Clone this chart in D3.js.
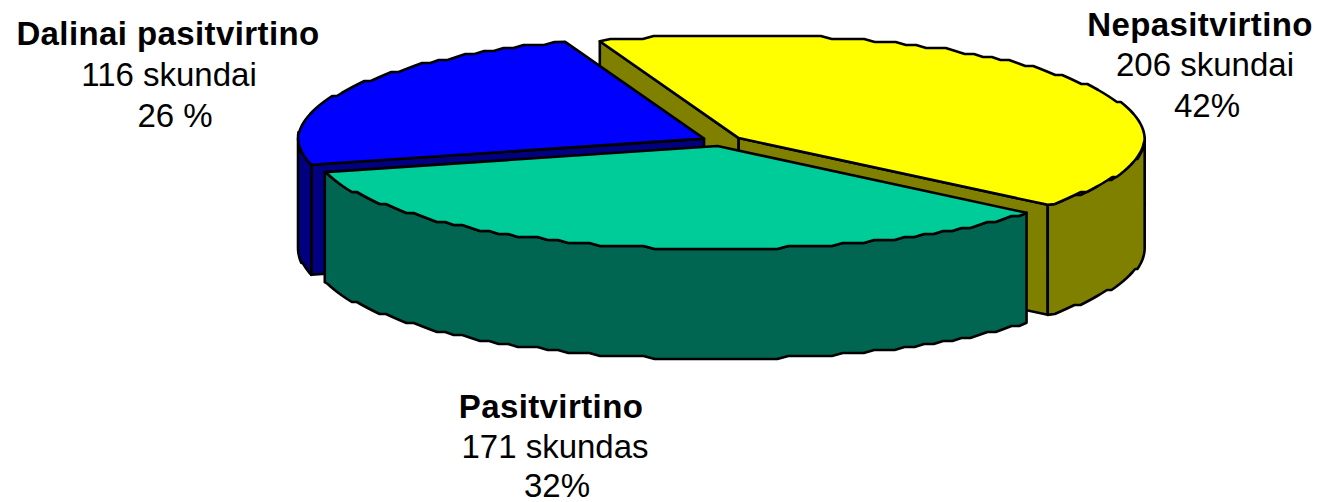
<!DOCTYPE html>
<html><head><meta charset="utf-8">
<style>html,body{margin:0;padding:0;background:#fff}svg{display:block}text{font-family:"Liberation Sans",Arial,sans-serif;fill:#000}</style>
<script src="https://cdn.jsdelivr.net/npm/d3@7/dist/d3.min.js"></script>
</head><body><svg id="c" width="1322" height="502"></svg>
<script>
const categories = ["Nepasitvirtino", "Pasitvirtino", "Dalinai pasitvirtino"];
const counts = [206, 171, 116];
const countLabels = ["206 skundai", "171 skundas", "116 skundai"];
const percentLabels = ["42%", "32%", "26 %"];
const topColors = ["#FFFF00", "#00CC99", "#0000FF"];
const sideColors = ["#808000", "#006652", "#000080"];
const drawOrder = [0, 2, 1];
// label anchor positions per category: [x, baseline] for title, count, percent
const labelPos = [
  [[1200, 36], [1205, 76], [1207, 117]],
  [[551, 418], [555, 458], [557, 497]],
  [[168, 45], [169, 86], [175, 127]]
];

const svg = d3.select("#c");
const rx = 406, ry = 103, depth = 110, explode = 0.05, grid = 3;
const sx = d3.scaleLinear().domain([-1, 1]).range([722 - rx, 722 + rx]);
const sy = d3.scaleLinear().domain([-1, 1]).range([141 - ry, 141 + ry]);
const deg = Math.PI / 180;
const pie = d3.pie().sort(null).startAngle(-20 * deg).endAngle(340 * deg);
const arcs = pie(counts);

const snap = v => Math.round(v / grid) * grid;
const line = d3.line();

function slicePoints(a) {
  const mid = (a.startAngle + a.endAngle) / 2;
  const ox = explode * Math.sin(mid), oy = -explode * Math.cos(mid);
  const P = (t, r) => [sx(ox + r * Math.sin(t)), sy(oy - r * Math.cos(t))];
  const arcPts = (t0, t1) => {
    const n = Math.max(2, Math.ceil((t1 - t0) / (1.6 * deg)));
    return d3.range(n + 1).map(i => {
      const t = t0 + (t1 - t0) * i / n;
      const p = P(t, 1);
      return (i === 0 || i === n) ? p : [p[0], snap(p[1])];
    });
  };
  return { P, arcPts };
}
const down = p => [p[0], p[1] + depth];

drawOrder.forEach(i => {
  const a = arcs[i];
  const { P, arcPts } = slicePoints(a);
  const g = svg.append("g");
  const center = P(0, 0), s = P(a.startAngle, 1), e = P(a.endAngle, 1);
  const style = sel => sel.attr("stroke", "#000").attr("stroke-width", 2.6).attr("stroke-linejoin", "round");
  const face = pts => style(g.append("path").attr("d", line(pts) + "Z").attr("fill", sideColors[i]));
  // cut faces, only the ones turned towards the viewer
  if (Math.sin(a.startAngle) < 0) face([center, s, down(s), down(center)]);
  if (Math.sin(a.endAngle) > 0) face([center, e, down(e), down(center)]);
  // outer wall, front half only
  const t0 = Math.max(a.startAngle, 90 * deg), t1 = Math.min(a.endAngle, 270 * deg);
  if (t1 > t0) {
    const top = arcPts(t0, t1);
    face(top.concat(top.slice().reverse().map(down)));
  }
  // top
  style(g.append("path").attr("d", line([center].concat(arcPts(a.startAngle, a.endAngle))) + "Z").attr("fill", topColors[i]));
});

categories.forEach((c, i) => {
  const g = svg.append("g").attr("text-anchor", "middle").attr("font-size", 33);
  g.append("text").attr("x", labelPos[i][0][0]).attr("y", labelPos[i][0][1])
    .attr("font-weight", "bold").attr("letter-spacing", 0.4).text(c);
  g.append("text").attr("x", labelPos[i][1][0]).attr("y", labelPos[i][1][1]).text(countLabels[i]);
  g.append("text").attr("x", labelPos[i][2][0]).attr("y", labelPos[i][2][1]).text(percentLabels[i]);
});
</script></body></html>
